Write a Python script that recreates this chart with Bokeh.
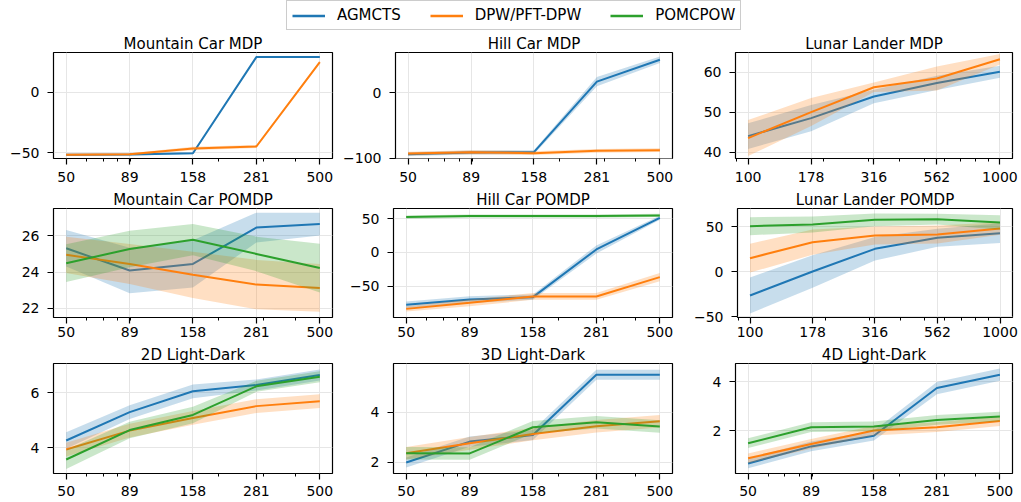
from bokeh.plotting import figure
from bokeh.layouts import column, row
from bokeh.models import FixedTicker, Legend, LegendItem, Range1d
from bokeh.embed import file_html
from bokeh.resources import INLINE

FONT = "DejaVu Sans"

# ---------------- data ----------------
series_names = ["AGMCTS", "DPW/PFT-DPW", "POMCPOW"]
colors = ["#1f77b4", "#ff7f0e", "#2ca02c"]

x_sims = [50, 89, 158, 281, 500]
x_sims_minor = [60, 70, 80, 90, 200, 300, 400]
x_lunar = [100, 178, 316, 562, 1000]
x_lunar_minor = [90, 200, 300, 400, 500, 600, 700, 800, 900]

# Mountain Car MDP
mc_mdp_agmcts = [-51.6, -51.4, -50.4, 28.9, 28.9]
mc_mdp_agmcts_err = [0.8, 0.8, 0.8, 0.5, 0.5]
mc_mdp_dpw = [-51.6, -51.2, -46.5, -44.8, 24.8]
mc_mdp_dpw_err = [0.8, 0.8, 1.5, 1.2, 1.0]

# Hill Car MDP
hc_mdp_agmcts = [-93.8, -91.3, -90.8, 17.4, 50.8]
hc_mdp_agmcts_err = [3.0, 3.0, 3.0, 7.0, 5.0]
hc_mdp_dpw = [-93.0, -90.8, -92.3, -88.8, -87.7]
hc_mdp_dpw_err = [3.0, 3.0, 3.0, 3.0, 3.0]

# Lunar Lander MDP
ll_mdp_agmcts = [44.0, 48.5, 53.9, 57.3, 60.1]
ll_mdp_agmcts_err = [3.2, 3.3, 1.7, 1.8, 1.5]
ll_mdp_dpw = [43.5, 50.0, 56.2, 58.4, 63.2]
ll_mdp_dpw_err = [4.5, 3.5, 1.2, 3.0, 1.3]

# Mountain Car POMDP
mc_pomdp_agmcts = [25.31, 24.09, 24.45, 26.45, 26.64]
mc_pomdp_agmcts_err = [1.0, 1.25, 1.3, 0.82, 0.63]
mc_pomdp_dpw = [24.95, 24.45, 23.85, 23.31, 23.13]
mc_pomdp_dpw_err = [1.0, 1.1, 1.27, 1.36, 1.31]
mc_pomdp_pomcpow = [24.49, 25.27, 25.78, 25.0, 24.22]
mc_pomdp_pomcpow_err = [1.04, 1.0, 0.86, 0.95, 1.34]

# Hill Car POMDP
hc_pomdp_agmcts = [-77.7, -69.8, -66.3, 4.5, 51.5]
hc_pomdp_agmcts_err = [5.0, 5.0, 4.0, 6.0, 3.0]
hc_pomdp_dpw = [-83.7, -74.7, -65.3, -65.3, -36.6]
hc_pomdp_dpw_err = [4.0, 5.0, 5.0, 5.0, 6.0]
hc_pomdp_pomcpow = [52.5, 54.0, 54.0, 54.0, 55.0]
hc_pomdp_pomcpow_err = [2.5, 2.5, 2.5, 2.5, 2.5]

# Lunar Lander POMDP
ll_pomdp_agmcts = [-26.7, 0.0, 25.2, 37.4, 42.6]
ll_pomdp_agmcts_err = [20.0, 18.0, 13.0, 10.0, 11.0]
ll_pomdp_dpw = [14.8, 32.6, 40.0, 41.1, 47.8]
ll_pomdp_dpw_err = [16.0, 14.0, 10.0, 10.0, 7.0]
ll_pomdp_pomcpow = [50.4, 52.2, 57.4, 58.1, 54.4]
ll_pomdp_pomcpow_err = [10.0, 9.0, 7.0, 6.0, 8.0]

# 2D Light-Dark
ld2_agmcts = [4.27, 5.30, 6.06, 6.29, 6.65]
ld2_agmcts_err = [0.3, 0.25, 0.25, 0.2, 0.2]
ld2_dpw = [3.94, 4.63, 5.09, 5.52, 5.70]
ld2_dpw_err = [0.25, 0.25, 0.25, 0.25, 0.25]
ld2_pomcpow = [3.58, 4.65, 5.20, 6.24, 6.59]
ld2_pomcpow_err = [0.35, 0.3, 0.3, 0.2, 0.2]

# 3D Light-Dark
ld3_agmcts = [2.0, 2.83, 3.09, 5.49, 5.49]
ld3_agmcts_err = [0.2, 0.2, 0.2, 0.2, 0.2]
ld3_dpw = [2.37, 2.76, 3.13, 3.44, 3.64]
ld3_dpw_err = [0.25, 0.25, 0.25, 0.25, 0.25]
ld3_pomcpow = [2.37, 2.36, 3.40, 3.60, 3.43]
ld3_pomcpow_err = [0.25, 0.25, 0.25, 0.25, 0.25]

# 4D Light-Dark
ld4_agmcts = [0.65, 1.35, 1.79, 3.75, 4.30]
ld4_agmcts_err = [0.2, 0.2, 0.2, 0.25, 0.25]
ld4_dpw = [0.86, 1.45, 2.0, 2.14, 2.39]
ld4_dpw_err = [0.2, 0.2, 0.2, 0.2, 0.2]
ld4_pomcpow = [1.48, 2.14, 2.17, 2.44, 2.58]
ld4_pomcpow_err = [0.2, 0.2, 0.2, 0.2, 0.2]

# ---------------- layout parameters ----------------
col_w = [340, 350, 331]
col_bl = [53, 53, 45]
col_br = [8, 18, 9]
row_h = [156, 155, 159]
row_bt = [20, 20, 20]
row_bb = [30, 26, 29]
row_xstand = [7, 3, 6]


def make_panel(title, xs, xminor, series, yr, yticks, r, c):
    lo = xs[0] / 10 ** 0.05
    hi = xs[-1] * 10 ** 0.05
    p = figure(width=col_w[c], height=row_h[r], x_axis_type="log",
               x_range=Range1d(lo, hi), y_range=Range1d(*yr),
               toolbar_location=None, output_backend="svg",
               min_border_left=col_bl[c], min_border_right=col_br[c],
               min_border_top=row_bt[r], min_border_bottom=row_bb[r])
    for mean, err, color in series:
        lower = [m - e for m, e in zip(mean, err)]
        upper = [m + e for m, e in zip(mean, err)]
        p.varea(x=xs, y1=lower, y2=upper, fill_color=color, fill_alpha=0.25)
        p.line(xs, mean, line_color=color, line_width=2)
    p.xaxis.ticker = FixedTicker(ticks=xs, minor_ticks=xminor)
    p.xaxis.major_label_overrides = {x: str(x) for x in xs}
    p.yaxis.ticker = FixedTicker(ticks=yticks)
    p.yaxis.major_label_overrides = {t: str(t).replace("-", "\u2212") for t in yticks}
    p.outline_line_color = "black"
    p.outline_line_width = 1.2
    p.outline_line_alpha = 1
    p.axis.axis_line_color = None
    p.axis.major_tick_line_color = "black"
    p.axis.major_tick_line_width = 1.2
    p.axis.major_tick_out = 6
    p.axis.major_tick_in = 0
    p.xaxis.minor_tick_line_color = "black"
    p.xaxis.minor_tick_line_width = 1
    p.xaxis.minor_tick_out = 3
    p.xaxis.minor_tick_in = 0
    p.yaxis.minor_tick_line_color = None
    p.axis.major_label_text_font = FONT
    p.axis.major_label_text_font_size = "14px"
    p.axis.major_label_text_color = "black"
    p.yaxis.major_label_standoff = 8
    p.xaxis.major_label_standoff = row_xstand[r]
    p.grid.grid_line_color = "#e6e6e6"
    p.grid.grid_line_width = 1
    p.title.text = title
    p.title.align = "center"
    p.title.text_font = FONT
    p.title.text_font_size = "15px"
    p.title.text_font_style = "normal"
    p.title.text_color = "black"
    p.title.standoff = 0
    p.background_fill_color = "white"
    p.border_fill_color = "white"
    return p


B, O, G = colors

p1 = make_panel("Mountain Car MDP", x_sims, x_sims_minor,
                [(mc_mdp_agmcts, mc_mdp_agmcts_err, B), (mc_mdp_dpw, mc_mdp_dpw_err, O)],
                (-54.7, 32.7), [-50, 0], 0, 0)
p2 = make_panel("Hill Car MDP", x_sims, x_sims_minor,
                [(hc_mdp_agmcts, hc_mdp_agmcts_err, B), (hc_mdp_dpw, hc_mdp_dpw_err, O)],
                (-100.5, 62), [-100, 0], 0, 1)
p3 = make_panel("Lunar Lander MDP", x_lunar, x_lunar_minor,
                [(ll_mdp_agmcts, ll_mdp_agmcts_err, B), (ll_mdp_dpw, ll_mdp_dpw_err, O)],
                (38.4, 64.9), [40, 50, 60], 0, 2)
p4 = make_panel("Mountain Car POMDP", x_sims, x_sims_minor,
                [(mc_pomdp_agmcts, mc_pomdp_agmcts_err, B), (mc_pomdp_dpw, mc_pomdp_dpw_err, O),
                 (mc_pomdp_pomcpow, mc_pomdp_pomcpow_err, G)],
                (21.5, 27.5), [22, 24, 26], 1, 0)
p5 = make_panel("Hill Car POMDP", x_sims, x_sims_minor,
                [(hc_pomdp_agmcts, hc_pomdp_agmcts_err, B), (hc_pomdp_dpw, hc_pomdp_dpw_err, O),
                 (hc_pomdp_pomcpow, hc_pomdp_pomcpow_err, G)],
                (-96.5, 65.3), [-50, 0, 50], 1, 1)
p6 = make_panel("Lunar Lander POMDP", x_lunar, x_lunar_minor,
                [(ll_pomdp_agmcts, ll_pomdp_agmcts_err, B), (ll_pomdp_dpw, ll_pomdp_dpw_err, O),
                 (ll_pomdp_pomcpow, ll_pomdp_pomcpow_err, G)],
                (-51.1, 70), [-50, 0, 50], 1, 2)
p7 = make_panel("2D Light-Dark", x_sims, x_sims_minor,
                [(ld2_agmcts, ld2_agmcts_err, B), (ld2_dpw, ld2_dpw_err, O),
                 (ld2_pomcpow, ld2_pomcpow_err, G)],
                (3.07, 7.07), [4, 6], 2, 0)
p8 = make_panel("3D Light-Dark", x_sims, x_sims_minor,
                [(ld3_agmcts, ld3_agmcts_err, B), (ld3_dpw, ld3_dpw_err, O),
                 (ld3_pomcpow, ld3_pomcpow_err, G)],
                (1.56, 5.94), [2, 4], 2, 1)
p9 = make_panel("4D Light-Dark", x_sims, x_sims_minor,
                [(ld4_agmcts, ld4_agmcts_err, B), (ld4_dpw, ld4_dpw_err, O),
                 (ld4_pomcpow, ld4_pomcpow_err, G)],
                (0.235, 4.76), [2, 4], 2, 2)

# ---------------- legend ----------------
lf = figure(width=1021, height=32, x_range=(0, 1), y_range=(0, 1),
            toolbar_location=None, output_backend="svg",
            x_axis_type=None, y_axis_type=None, min_border=0)
lf.outline_line_color = None
lf.border_fill_color = "white"
lf.background_fill_color = "white"
rends = [lf.line([5, 6], [5, 6], line_color=c, line_width=2.5) for c in colors]
legend = Legend(items=[LegendItem(label=n, renderers=[r]) for n, r in zip(series_names, rends)],
                orientation="horizontal", location=(286, 2),
                glyph_width=33, glyph_height=17, label_standoff=12, spacing=29,
                padding=5, margin=0,
                label_text_font=FONT, label_text_font_size="15px", label_text_color="black",
                border_line_color="#cccccc", border_line_width=1, border_line_alpha=1,
                background_fill_color="white", background_fill_alpha=1)
lf.add_layout(legend)

layout = column(lf, row(p1, p2, p3), row(p4, p5, p6), row(p7, p8, p9))

open("out.html", "w").write(file_html(layout, INLINE))
